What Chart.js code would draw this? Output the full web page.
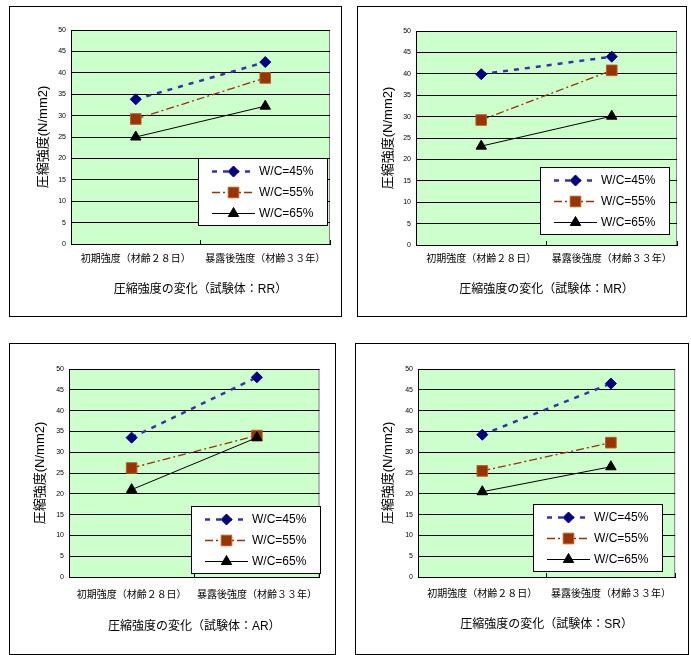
<!DOCTYPE html>
<html>
<head>
<meta charset="utf-8">
<script src="https://cdn.jsdelivr.net/npm/chart.js@4/dist/chart.umd.min.js"></script>
<style>
  body { margin: 0; background: #fff; }
  #wrap { position: relative; width: 691px; height: 655px; overflow: hidden; }
  .panel { position: absolute; border: 1px solid #000; box-sizing: border-box; background: #fff; }
  .panel canvas { position: absolute; left: 0; top: 0; }
</style>
</head>
<body>
<div id="wrap"></div>
<script>
// categories and series
const categories = ['初期強度（材齢２８日）', '暴露後強度（材齢３３年）'];
const seriesNames = ['W/C=45%', 'W/C=55%', 'W/C=65%'];
const specimens = ['RR', 'MR', 'AR', 'SR'];

// compressive strength (N/mm2), [initial, after exposure]
const RR_45 = [33.8, 42.5];
const RR_55 = [29.2, 38.8];
const RR_65 = [25.0, 32.2];
const MR_45 = [39.9, 44.0];
const MR_55 = [29.2, 40.8];
const MR_65 = [23.1, 30.1];
const AR_45 = [33.5, 48.0];
const AR_55 = [26.2, 34.0];
const AR_65 = [21.0, 33.5];
const SR_45 = [34.2, 46.5];
const SR_55 = [25.5, 32.3];
const SR_65 = [20.5, 26.5];

const yMin = 0, yMax = 50, yStep = 5;
const yTitle = '圧縮強度(N/mm2)';

const seriesBySpecimen = {
    RR: [RR_45, RR_55, RR_65],
    MR: [MR_45, MR_55, MR_65],
    AR: [AR_45, AR_55, AR_65],
    SR: [SR_45, SR_55, SR_65]
};

// page layout of each panel (box, plot area, legend box, gaps)
const layouts = {
    RR: { box: [9, 6, 333, 311], plot: [71, 30, 330, 244], legend: [198, 158], yGap: 28, labelGap: 15, titleGap: 46 },
    MR: { box: [357, 6, 330, 311], plot: [416, 31, 677, 245], legend: [540, 167], yGap: 28, labelGap: 14, titleGap: 45 },
    AR: { box: [9, 343, 327, 312], plot: [69, 369, 328, 577], legend: [191, 506], yGap: 29, labelGap: 18, titleGap: 50 },
    SR: { box: [355, 343, 334, 312], plot: [418, 369, 680, 577], legend: [533, 504], yGap: 30, labelGap: 17, titleGap: 48 }
};

const FONT = "'Liberation Sans', 'Noto Sans CJK JP', sans-serif";
Chart.defaults.font.family = FONT;
Chart.defaults.color = '#000';

const seriesStyles = [
    { borderColor: '#3434a8', borderWidth: 2.5, borderDash: [5, 6], pointStyle: 'rectRot', pointRadius: 5.5,
      pointBackgroundColor: '#000080', pointBorderColor: '#000080', order: 3 },
    { borderColor: '#993300', borderWidth: 1.3, borderDash: [8, 3, 2, 3], pointStyle: 'rect', pointRadius: 7.5,
      pointBackgroundColor: '#993300', pointBorderColor: '#b5602a', order: 2 },
    { borderColor: '#000000', borderWidth: 1, borderDash: [], pointStyle: 'triangle', pointRadius: 6,
      pointBackgroundColor: '#000000', pointBorderColor: '#000000', order: 1 }
];

// green plot area with grey frame
const plotBg = {
    id: 'plotBg',
    beforeDraw(chart) {
        const { ctx, chartArea: a } = chart;
        ctx.save();
        ctx.fillStyle = '#ccffcc';
        ctx.fillRect(a.left, a.top, a.right - a.left, a.bottom - a.top);
        ctx.strokeStyle = '#808080';
        ctx.lineWidth = 1;
        ctx.strokeRect(a.left + 0.5, a.top + 0.5, a.right - a.left - 1, a.bottom - a.top);
        ctx.restore();
    }
};

// legend box inside the plot area, like the excel one
const boxLegend = {
    id: 'boxLegend',
    afterDraw(chart, args, opts) {
        const ctx = chart.ctx;
        const x = opts.x, y = opts.y, w = 130, h = 68;
        ctx.save();
        ctx.fillStyle = '#fff';
        ctx.fillRect(x, y, w, h);
        ctx.strokeStyle = '#000';
        ctx.lineWidth = 1;
        ctx.strokeRect(x + 0.5, y + 0.5, w - 1, h - 1);
        chart.data.datasets.forEach((ds, i) => {
            const cy = y + 13.5 + i * 21;
            ctx.strokeStyle = ds.borderColor;
            ctx.lineWidth = ds.borderWidth;
            ctx.setLineDash(ds.borderDash);
            ctx.beginPath();
            ctx.moveTo(x + 14, cy);
            ctx.lineTo(x + 57, cy);
            ctx.stroke();
            ctx.setLineDash([]);
            ctx.fillStyle = ds.pointBackgroundColor;
            ctx.strokeStyle = ds.pointBorderColor;
            ctx.lineWidth = 1;
            Chart.helpers.drawPoint(ctx, { pointStyle: ds.pointStyle, radius: ds.pointRadius, borderWidth: 1, rotation: 0 }, x + 35.5, cy);
            ctx.fillStyle = '#000';
            ctx.font = '12px ' + FONT;
            ctx.textBaseline = 'middle';
            ctx.textAlign = 'left';
            ctx.fillText(ds.label, x + 61, cy);
        });
        ctx.restore();
    }
};

const YW = 40, XH = 62;
const wrap = document.getElementById('wrap');

specimens.forEach(name => {
    const L = layouts[name];
    const [bx, by, bw, bh] = L.box;
    const [pl, pt, pr, pb] = L.plot;
    const ox = bx + 1, oy = by + 1, cw = bw - 2, ch = bh - 2;

    const panel = document.createElement('div');
    panel.className = 'panel';
    panel.style.left = bx + 'px';
    panel.style.top = by + 'px';
    panel.style.width = bw + 'px';
    panel.style.height = bh + 'px';
    const canvas = document.createElement('canvas');
    canvas.width = cw;
    canvas.height = ch;
    canvas.style.width = cw + 'px';
    canvas.style.height = ch + 'px';
    panel.appendChild(canvas);
    wrap.appendChild(panel);

    const datasets = seriesBySpecimen[name].map((vals, i) => Object.assign({
        label: seriesNames[i],
        data: vals,
        fill: false,
        tension: 0,
        pointBorderWidth: 1
    }, seriesStyles[i]));

    new Chart(canvas.getContext('2d'), {
        type: 'line',
        data: { labels: categories, datasets: datasets },
        options: {
            responsive: false,
            animation: false,
            events: [],
            layout: {
                padding: {
                    left: pl - ox - YW,
                    top: pt - oy,
                    right: ox + cw - pr,
                    bottom: oy + ch - pb - XH
                }
            },
            scales: {
                x: {
                    offset: true,
                    afterFit: s => { s.height = XH; },
                    grid: { offset: true, drawOnChartArea: false, drawTicks: true, tickLength: -4, tickColor: '#000', tickWidth: 1 },
                    border: { display: true, color: '#000', width: 1 },
                    ticks: { font: { size: 10 }, padding: L.labelGap - 2, maxRotation: 0, autoSkip: false },
                    title: {
                        display: true,
                        text: '圧縮強度の変化（試験体：' + name + '）',
                        font: { size: 12 },
                        padding: { top: 0, bottom: XH - L.titleGap - 7.2 }
                    }
                },
                y: {
                    min: yMin,
                    max: yMax,
                    afterFit: s => { s.width = YW; },
                    grid: { color: '#000', lineWidth: 1, drawTicks: false },
                    border: { display: true, color: '#000', width: 1 },
                    ticks: { stepSize: yStep, font: { size: 7 }, padding: 5 },
                    title: {
                        display: true,
                        text: yTitle,
                        font: { size: 13 },
                        padding: { top: YW - L.yGap - 7.8, bottom: 0 }
                    }
                }
            },
            plugins: {
                legend: { display: false },
                tooltip: { enabled: false },
                boxLegend: { x: L.legend[0] - ox, y: L.legend[1] - oy }
            }
        },
        plugins: [plotBg, boxLegend]
    });
});
</script>
</body>
</html>
